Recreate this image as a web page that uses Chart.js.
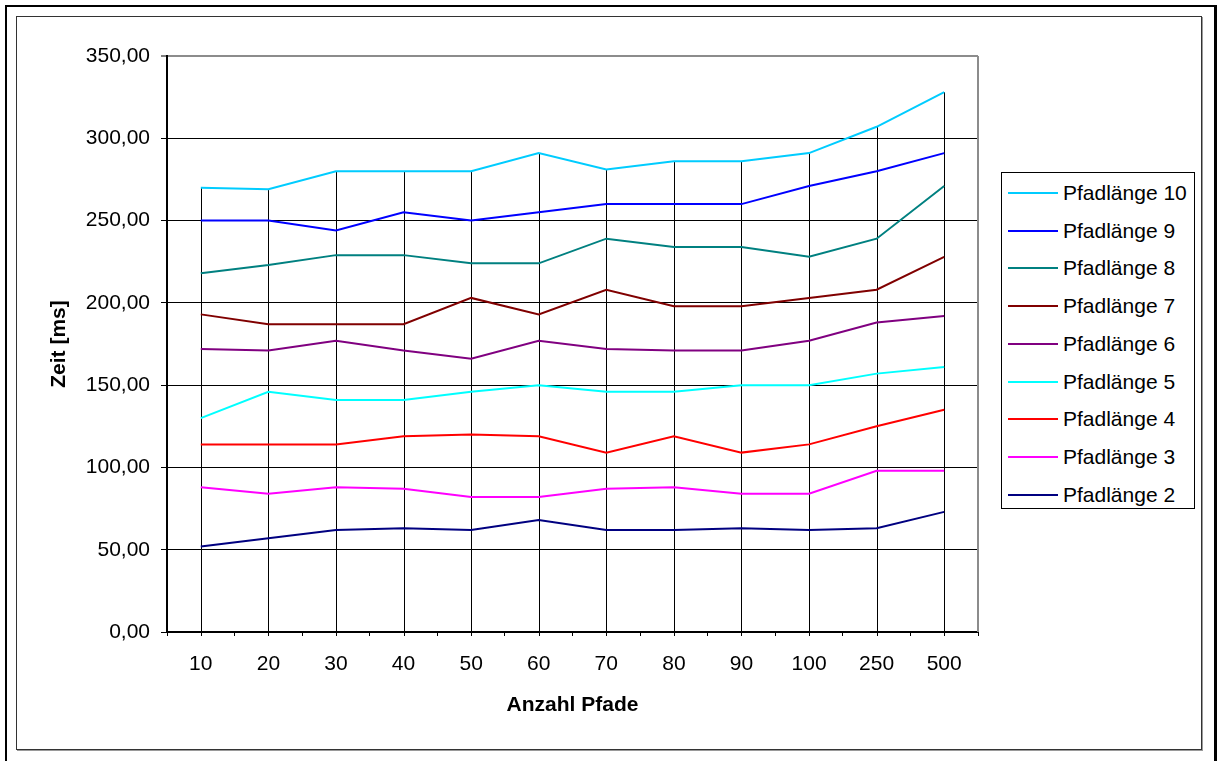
<!DOCTYPE html>
<html lang="de">
<head>
<meta charset="utf-8">
<title>Zeit je Anzahl Pfade</title>
<script src="https://cdn.jsdelivr.net/npm/chart.js@4/dist/chart.umd.min.js"></script>
<style>
  html, body { margin: 0; padding: 0; background: #fff; overflow: hidden; }
  #wrap { position: relative; width: 1226px; height: 761px; }
  #chart { position: absolute; left: 0; top: 0; width: 1226px; height: 761px; }
  .outer-frame {
    position: absolute; left: 5px; top: 5px; width: 1207px; height: 800px;
    border-left: 2px solid #000; border-top: 2px solid #000; border-right: 3px solid #000;
    pointer-events: none;
  }
  .inner-frame {
    position: absolute; left: 16px; top: 16px; width: 1184px; height: 732px;
    border: 1px solid #333; box-shadow: 1px 1px 0 #9a9a9a;
    pointer-events: none;
  }
  #legend {
    position: absolute; left: 1001px; top: 172px; width: 192px; height: 335px;
    border: 1px solid #000; background: #fff;
    font-family: "Liberation Sans", Arial, sans-serif; font-size: 21px; color: #000;
  }
  #legend .item { position: absolute; left: 0; height: 24px; width: 190px; }
  #legend .swatch { position: absolute; left: 6px; top: 11px; width: 50px; height: 2px; }
  #legend .label { position: absolute; left: 61px; top: 0; line-height: 24px; white-space: nowrap; }
</style>
</head>
<body>
<div id="wrap">
  <canvas id="chart" width="1226" height="761"></canvas>
  <div class="outer-frame"></div>
  <div class="inner-frame"></div>
  <div id="legend"></div>
</div>
<script>
// Anzahl Pfade (category axis)
const categories = ['10', '20', '30', '40', '50', '60', '70', '80', '90', '100', '250', '500'];

// Zeit [ms] per Pfadlänge
const pfadlaenge10 = [270, 269, 280, 280, 280, 291, 281, 286, 286, 291, 307, 328];
const pfadlaenge9  = [250, 250, 244, 255, 250, 255, 260, 260, 260, 271, 280, 291];
const pfadlaenge8  = [218, 223, 229, 229, 224, 224, 239, 234, 234, 228, 239, 271];
const pfadlaenge7  = [193, 187, 187, 187, 203, 193, 208, 198, 198, 203, 208, 228];
const pfadlaenge6  = [172, 171, 177, 171, 166, 177, 172, 171, 171, 177, 188, 192];
const pfadlaenge5  = [130, 146, 141, 141, 146, 150, 146, 146, 150, 150, 157, 161];
const pfadlaenge4  = [114, 114, 114, 119, 120, 119, 109, 119, 109, 114, 125, 135];
const pfadlaenge3  = [88, 84, 88, 87, 82, 82, 87, 88, 84, 84, 98, 98];
const pfadlaenge2  = [52, 57, 62, 63, 62, 68, 62, 62, 63, 62, 63, 73];

const seriesNames = ['Pfadlänge 10', 'Pfadlänge 9', 'Pfadlänge 8', 'Pfadlänge 7', 'Pfadlänge 6',
                     'Pfadlänge 5', 'Pfadlänge 4', 'Pfadlänge 3', 'Pfadlänge 2'];
const seriesValues = [pfadlaenge10, pfadlaenge9, pfadlaenge8, pfadlaenge7, pfadlaenge6,
                      pfadlaenge5, pfadlaenge4, pfadlaenge3, pfadlaenge2];
const seriesColors = ['#00CCFF', '#0000FF', '#008080', '#800000', '#800080',
                      '#00FFFF', '#FF0000', '#FF00FF', '#000080'];

// value axis range
const yMin = 0, yMax = 350, yStep = 50;

const FONT = '"Liberation Sans", Arial, sans-serif';

// vertical drop lines from the highest series down to the category axis
const dropLines = {
  id: 'dropLines',
  beforeDatasetsDraw(chart) {
    const { ctx, scales: { x, y } } = chart;
    ctx.save();
    ctx.strokeStyle = '#000';
    ctx.lineWidth = 1;
    categories.forEach((c, i) => {
      let top = -Infinity;
      chart.data.datasets.forEach(ds => { if (ds.data[i] > top) top = ds.data[i]; });
      const px = Math.round(x.getPixelForValue(i)) + 0.5;
      ctx.beginPath();
      ctx.moveTo(px, y.getPixelForValue(top));
      ctx.lineTo(px, y.getPixelForValue(yMin) + 4);
      ctx.stroke();
    });
    ctx.restore();
  }
};

// grey right edge of the plot area
const plotEdge = {
  id: 'plotEdge',
  beforeDatasetsDraw(chart) {
    const { ctx, chartArea: a } = chart;
    ctx.save();
    ctx.strokeStyle = '#8c8c8c';
    ctx.lineWidth = 2;
    ctx.beginPath();
    ctx.moveTo(a.right, a.top);
    ctx.lineTo(a.right, a.bottom);
    ctx.stroke();
    ctx.restore();
  }
};

Chart.defaults.color = '#000';
Chart.defaults.font.family = FONT;

const chart = new Chart(document.getElementById('chart'), {
  type: 'line',
  data: {
    labels: categories,
    datasets: seriesNames.map((name, k) => ({
      label: name,
      data: seriesValues[k],
      borderColor: seriesColors[k],
      backgroundColor: seriesColors[k],
      borderWidth: 2,
      pointRadius: 0,
      tension: 0,
      fill: false
    }))
  },
  options: {
    responsive: false,
    devicePixelRatio: 1,
    animation: false,
    events: [],
    layout: { padding: { left: 0, top: 56, right: 248, bottom: 43.4 } },
    plugins: { legend: { display: false }, tooltip: { enabled: false } },
    scales: {
      x: {
        type: 'category',
        offset: true,
        grid: { offset: true, drawOnChartArea: false, drawTicks: true, tickLength: 4, color: '#000', lineWidth: 1 },
        border: { color: '#000', width: 2 },
        ticks: { font: { size: 21 }, padding: 16, maxRotation: 0, autoSkip: false, color: '#000' },
        title: { display: true, text: 'Anzahl Pfade', font: { size: 21, weight: 'bold' }, padding: { top: 0, bottom: 0 }, color: '#000' },
        afterFit(scale) { scale.height = 85.6; }
      },
      y: {
        min: yMin,
        max: yMax,
        grid: {
          color: ctx => (ctx.tick && ctx.tick.value === yMax ? '#8c8c8c' : '#000'),
          lineWidth: ctx => (ctx.tick && ctx.tick.value === yMax ? 2 : 1),
          tickColor: '#000',
          tickWidth: 1,
          tickLength: 6,
          drawTicks: true
        },
        border: { color: '#000', width: 2 },
        ticks: {
          stepSize: yStep,
          font: { size: 21 },
          padding: 11,
          color: '#000',
          callback: v => v.toFixed(2).replace('.', ',')
        },
        title: { display: true, text: 'Zeit [ms]', font: { size: 21, weight: 'bold' }, padding: { top: 46.4, bottom: 0 }, color: '#000' },
        afterFit(scale) { scale.width = 167; }
      }
    }
  },
  plugins: [dropLines, plotEdge]
});

// legend box built from the chart's datasets
const legendEl = document.getElementById('legend');
chart.data.datasets.forEach((ds, i) => {
  const item = document.createElement('div');
  item.className = 'item';
  item.style.top = (8 + i * 37.7) + 'px';
  const sw = document.createElement('div');
  sw.className = 'swatch';
  sw.style.background = ds.borderColor;
  const lb = document.createElement('div');
  lb.className = 'label';
  lb.textContent = ds.label;
  item.appendChild(sw);
  item.appendChild(lb);
  legendEl.appendChild(item);
});
</script>
</body>
</html>
